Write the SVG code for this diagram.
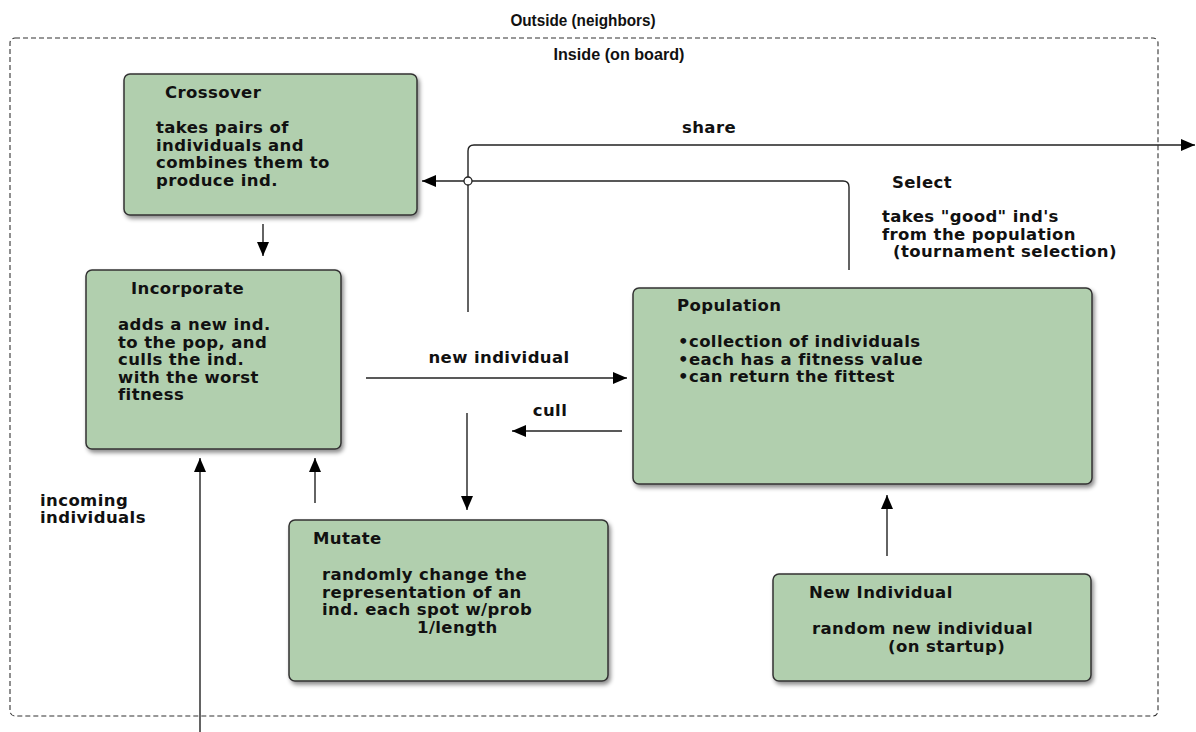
<svg xmlns="http://www.w3.org/2000/svg" width="1196" height="732" viewBox="0 0 1196 732">
<defs>
<filter id="sh" x="-10%" y="-10%" width="125%" height="130%">
<feDropShadow dx="2" dy="3" stdDeviation="2" flood-color="#000" flood-opacity="0.45"/>
</filter>
<marker id="ah" viewBox="0 0 14 12" refX="14" refY="6" markerWidth="14" markerHeight="12" markerUnits="userSpaceOnUse" orient="auto">
<path d="M0,0 L14,6 L0,12 Z" fill="#000"/>
</marker>
<style>
.box{fill:#b1cfae;stroke:#333;stroke-width:1.5;filter:url(#sh)}
.t{font-family:"DejaVu Sans",Verdana,sans-serif;font-weight:bold;font-size:16.5px;letter-spacing:0.4px;fill:#111}
.h{font-family:"Liberation Sans",Arial,sans-serif;font-weight:bold;font-size:17px;fill:#111}
.ar{fill:none;stroke:#222;stroke-width:1.4;marker-end:url(#ah)}
</style>
</defs>
<rect width="1196" height="732" fill="#fff"/>
<g id="boundary">
<rect x="10" y="38" width="1148" height="678" rx="5" fill="none" stroke="#333" stroke-width="1.1" stroke-dasharray="5 3"/>
<text class="h" x="583" y="26" text-anchor="middle" transform="translate(583 0) scale(0.9 1) translate(-583 0)">Outside (neighbors)</text>
<text class="h" x="619" y="60" text-anchor="middle" transform="translate(619 0) scale(0.95 1) translate(-619 0)">Inside (on board)</text>
</g>
<g id="connectors">
<path class="ar" d="M468,312 V151 Q468,145 474,145 H1195"/>
<path class="ar" d="M849,270 V187 Q849,181 843,181 H422"/>
<circle cx="468" cy="181" r="4" fill="#fff" stroke="#222" stroke-width="1.3"/>
<path class="ar" d="M263,224 V256"/>
<path class="ar" d="M366,378 H627"/>
<text class="t" x="499" y="363" text-anchor="middle">new individual</text>
<path class="ar" d="M622,431 H512"/>
<text class="t" x="550" y="416" text-anchor="middle">cull</text>
<path class="ar" d="M467,413 V510"/>
<path class="ar" d="M315,503 V458"/>
<path class="ar" d="M200,732 V458"/>
<text class="t" x="40" y="506">incoming</text>
<text class="t" x="40" y="523">individuals</text>
<path class="ar" d="M887,556 V495"/>
<text class="t" x="709" y="133" text-anchor="middle">share</text>
</g>
<g id="crossover">
<rect class="box" x="124" y="74" width="293" height="141" rx="6"/>
<text class="t" x="165" y="98">Crossover</text>
<text class="t" x="156" y="133">takes pairs of</text>
<text class="t" x="156" y="150.5">individuals and</text>
<text class="t" x="156" y="168">combines them to</text>
<text class="t" x="156" y="185.5">produce ind.</text>
</g>
<g id="incorporate">
<rect class="box" x="86" y="270" width="255" height="179" rx="6"/>
<text class="t" x="131" y="294">Incorporate</text>
<text class="t" x="118" y="330">adds a new ind.</text>
<text class="t" x="118" y="347.5">to the pop, and</text>
<text class="t" x="118" y="365">culls the ind.</text>
<text class="t" x="118" y="382.5">with the worst</text>
<text class="t" x="118" y="400">fitness</text>
</g>
<g id="select">
<text class="t" x="892" y="188">Select</text>
<text class="t" x="882" y="222">takes "good" ind's</text>
<text class="t" x="882" y="239.5">from the population</text>
<text class="t" x="893" y="257">(tournament selection)</text>
</g>
<g id="population">
<rect class="box" x="633" y="288" width="459" height="196" rx="6"/>
<text class="t" x="677" y="311">Population</text>
<text class="t" x="678" y="347">•collection of individuals</text>
<text class="t" x="678" y="364.5">•each has a fitness value</text>
<text class="t" x="678" y="382">•can return the fittest</text>
</g>
<g id="mutate">
<rect class="box" x="289" y="520" width="319" height="161" rx="6"/>
<text class="t" x="313" y="544">Mutate</text>
<text class="t" x="322" y="580">randomly change the</text>
<text class="t" x="322" y="597.5">representation of an</text>
<text class="t" x="322" y="615">ind. each spot w/prob</text>
<text class="t" x="417" y="632.5">1/length</text>
</g>
<g id="new-individual">
<rect class="box" x="773" y="574" width="318" height="107" rx="6"/>
<text class="t" x="809" y="598">New Individual</text>
<text class="t" x="812" y="634">random new individual</text>
<text class="t" x="888" y="651.5">(on startup)</text>
</g>
</svg>
